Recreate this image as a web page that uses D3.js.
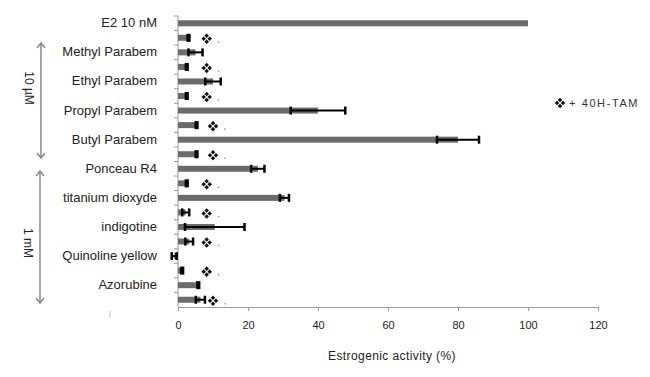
<!DOCTYPE html>
<html>
<head>
<meta charset="utf-8">
<script src="https://cdn.jsdelivr.net/npm/d3@7"></script>
<style>
  body { margin: 0; background: #fff; }
  svg { font-family: "Liberation Sans", Arial, sans-serif; }
</style>
</head>
<body>
<svg id="chart" width="650" height="377"></svg>
<script>
// rows from top to bottom; "+TAM" rows carry no label
const rowLabels = ["E2 10 nM", "", "Methyl Parabem", "", "Ethyl Parabem", "", "Propyl Parabem",
  "", "Butyl Parabem", "", "Ponceau R4", "", "titanium dioxyde", "", "indigotine", "",
  "Quinoline yellow", "", "Azorubine", ""]
const values = [100, 3, 5, 2.5, 10, 2.5, 40, 5.3, 80, 5.3, 22.8, 2.5, 30.4, 2.2, 10.5, 3.2, -1.1, 1.2, 5.8, 6.4]
const errors = [0, 0.25, 2, 0.25, 2.2, 0.25, 7.8, 0.25, 6, 0.25, 1.9, 0.25, 1.3, 1, 8.5, 1.1, 0.7, 0.25, 0.25, 1.3]
const withTam = [0, 1, 0, 1, 0, 1, 0, 1, 0, 1, 0, 1, 0, 1, 0, 1, 0, 1, 0, 1]
const tamMarkAt = [0, 8.2, 0, 8.2, 0, 8.2, 0, 10, 0, 10, 0, 8.2, 0, 8.2, 0, 8.2, 0, 8.2, 0, 10]
const xTicks = [0, 20, 40, 60, 80, 100, 120]

let svg = d3.select('#chart')
let x = d3.scaleLinear().domain([0, 120]).range([178, 598])
let y = d3.scaleBand().domain(d3.range(values.length)).range([16, 307])
let rows = values.map((v, i) => ({i, v, e: errors[i]}))

// axes
let xAxis = svg.append('g').attr('transform', 'translate(0,307)')
  .call(d3.axisBottom(x).tickValues(xTicks).tickSize(4).tickPadding(10))
xAxis.select('.domain').attr('stroke', '#999')
xAxis.selectAll('.tick line').attr('stroke', '#999')
xAxis.selectAll('.tick text').attr('fill', '#222').attr('font-size', 11)
  .attr('font-family', '"Liberation Sans", Arial, sans-serif')

let yAxis = svg.append('g')
yAxis.append('line').attr('x1', 178).attr('x2', 178).attr('y1', 16).attr('y2', 307).attr('stroke', '#999')
yAxis.selectAll('line.tk').data(d3.range(values.length)).enter().append('line')
  .attr('x1', 174).attr('x2', 178)
  .attr('y1', d => y(d)).attr('y2', d => y(d))
  .attr('stroke', '#999')

svg.selectAll('text.lbl').data(rowLabels).enter().append('text')
  .attr('x', 157).attr('y', (d, i) => y(i) + y.bandwidth() / 2 + 4)
  .attr('text-anchor', 'end').attr('font-size', 13).attr('fill', '#222')
  .text(d => d)
svg.append('text').attr('x', 110).attr('y', 316).attr('text-anchor', 'middle')
  .attr('font-size', 7).attr('fill', '#999').text('|')

svg.append('text').attr('x', 392).attr('y', 360).attr('text-anchor', 'middle')
  .attr('font-size', 12).attr('letter-spacing', 0.4).attr('fill', '#222').text('Estrogenic activity (%)')

// bars
let mid = i => y(i) + y.bandwidth() / 2
svg.selectAll('rect.bar').data(rows).enter().append('rect')
  .attr('x', d => x(Math.min(0, d.v))).attr('width', d => Math.abs(x(d.v) - x(0)))
  .attr('y', d => mid(d.i) - 3).attr('height', 6)
  .attr('fill', '#6b6b6b')

// error bars
let eb = svg.selectAll('g.err').data(rows.filter(d => d.e > 0)).enter().append('g')
eb.append('line')
  .attr('x1', d => x(d.v - d.e)).attr('x2', d => x(d.v + d.e))
  .attr('y1', d => mid(d.i)).attr('y2', d => mid(d.i))
  .attr('stroke', '#000').attr('stroke-width', 2)
for (let s of [-1, 1]) {
  eb.append('line')
    .attr('x1', d => x(d.v + s * d.e)).attr('x2', d => x(d.v + s * d.e))
    .attr('y1', d => mid(d.i) - 4).attr('y2', d => mid(d.i) + 4)
    .attr('stroke', '#000').attr('stroke-width', 2.5)
}

// 4OH-TAM marker
function tamMark(g, cx, cy) {
  for (let [dx, dy] of [[-3, 0], [3, 0], [0, -3], [0, 3]]) {
    g.append('rect').attr('x', -1.6).attr('y', -1.6).attr('width', 3.2).attr('height', 3.2)
      .attr('fill', '#111')
      .attr('transform', `translate(${cx + dx},${cy + dy}) rotate(45)`)
  }
}
rows.forEach(d => {
  if (!withTam[d.i]) return
  tamMark(svg, x(tamMarkAt[d.i]), mid(d.i) + 1)
  svg.append('circle').attr('cx', x(tamMarkAt[d.i] + 3.4)).attr('cy', mid(d.i) + 4)
    .attr('r', 0.8).attr('fill', '#888')
})

// legend
tamMark(svg, 560, 103)
svg.append('text').attr('x', 569).attr('y', 107).attr('font-size', 11)
  .attr('letter-spacing', 1.6).attr('fill', '#333').text('+ 40H-TAM')

// concentration brackets
function bracket(xp, y1, y2, label, ly) {
  let g = svg.append('g').attr('stroke', '#888').attr('stroke-width', 1.5).attr('fill', 'none')
  g.append('line').attr('x1', xp).attr('x2', xp).attr('y1', y1).attr('y2', y2)
  g.append('path').attr('d', `M${xp - 4},${y1 + 5}L${xp},${y1}L${xp + 4},${y1 + 5}`)
  g.append('path').attr('d', `M${xp - 4},${y2 - 5}L${xp},${y2}L${xp + 4},${y2 - 5}`)
  svg.append('text').attr('transform', `translate(${xp - 16},${ly}) rotate(90)`)
    .attr('text-anchor', 'middle').attr('font-size', 12).attr('fill', '#222').text(label)
}
bracket(41, 43, 158, '10 µM', 88)
bracket(40, 171, 303, '1 mM', 243)
</script>
</body>
</html>
